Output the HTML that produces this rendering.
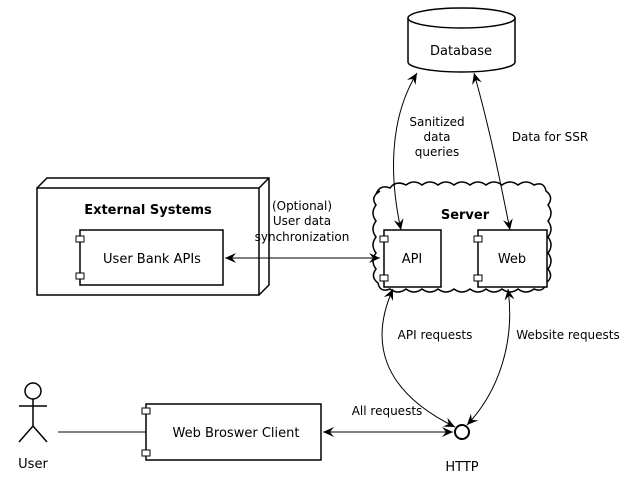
<!DOCTYPE html>
<html><head><meta charset="utf-8"><style>
html,body{margin:0;padding:0;background:#fff;}
svg{display:block;font-family:"DejaVu Sans","Liberation Sans",sans-serif;}
</style></head><body>
<svg width="635" height="484" viewBox="0 0 635 484" xmlns="http://www.w3.org/2000/svg">
<defs>
<marker id="a" viewBox="0 0 12 10" refX="11" refY="5" markerWidth="12" markerHeight="10" orient="auto-start-reverse" markerUnits="userSpaceOnUse">
<path d="M0,0 L11,5 L0,10 L4,5 Z" fill="#000"/>
</marker>
</defs>
<g fill="none" stroke="#000" stroke-width="1.5">
<path d="M408,18 L408,62 A53.5,10 0 0 0 515,62 L515,18" fill="#fff"/>
<ellipse cx="461.5" cy="18" rx="53.5" ry="10" fill="#fff"/>
<rect x="37" y="188" width="222" height="107" fill="#fff"/>
<path d="M37,188 L47,178 L269,178 L269,285 L259,295 M259,188 L269,178"/>
<rect x="80" y="230" width="143" height="55" fill="#fff"/>
<rect x="76" y="236" width="8" height="6" fill="#fff" stroke-width="1"/>
<rect x="76" y="273" width="8" height="6" fill="#fff" stroke-width="1"/>
<path fill="#fff" d="M376,194 q4,-10 14,-6 q6,-8 16,-3 q8,-6 16,0 q8,-6 16,0 q8,-6 16,0 q8,-6 16,0 q8,-6 16,0 q8,-6 16,0 q8,-6 16,0 q8,-6 16,0 q10,-4 12,6 q8,6 2,14 q6,8 0,16 q6,8 0,16 q6,8 0,16 q6,8 0,16 q6,8 -2,14 q-2,10 -12,6 q-8,6 -16,0 q-8,6 -16,0 q-8,6 -16,0 q-8,6 -16,0 q-8,6 -16,0 q-8,6 -16,0 q-8,6 -16,0 q-8,6 -16,0 q-8,6 -16,0 q-10,4 -12,-6 q-8,-6 -2,-14 q-6,-8 0,-16 q-6,-8 0,-16 q-6,-8 0,-16 q-6,-8 0,-16 q-6,-8 4,-14 z"/>
<rect x="384" y="230" width="57" height="57" fill="#fff"/>
<rect x="380" y="236" width="8" height="6" fill="#fff" stroke-width="1"/>
<rect x="380" y="275" width="8" height="6" fill="#fff" stroke-width="1"/>
<rect x="478" y="230" width="69" height="57" fill="#fff"/>
<rect x="474" y="236" width="8" height="6" fill="#fff" stroke-width="1"/>
<rect x="474" y="275" width="8" height="6" fill="#fff" stroke-width="1"/>
<rect x="146" y="404" width="175" height="56" fill="#fff"/>
<rect x="142" y="408" width="8" height="6" fill="#fff" stroke-width="1"/>
<rect x="142" y="450" width="8" height="6" fill="#fff" stroke-width="1"/>
<circle cx="462" cy="432" r="7" stroke-width="2" fill="#fff"/>
<circle cx="33" cy="391" r="8"/>
<path d="M33,399 L33,426 M19,406 L47,406 M19,442 L33,426 L47,442"/>
</g>
<g fill="none" stroke="#000" stroke-width="1">
<line x1="58" y1="432" x2="146" y2="432"/>
<line x1="323" y1="432" x2="453" y2="432" marker-start="url(#a)" marker-end="url(#a)"/>
<line x1="225" y1="258" x2="380" y2="258" marker-start="url(#a)" marker-end="url(#a)"/>
<path d="M417,73 C388,120 390,180 401,230" marker-start="url(#a)" marker-end="url(#a)"/>
<path d="M474,73 C490,130 500,180 510,230" marker-start="url(#a)" marker-end="url(#a)"/>
<path d="M393,289 C370,340 380,390 455,427" marker-start="url(#a)" marker-end="url(#a)"/>
<path d="M508,289 C515,340 500,390 467,425" marker-start="url(#a)" marker-end="url(#a)"/>
</g>
<g font-size="13" fill="#000" text-anchor="middle">
<text x="461" y="55">Database</text>
<text x="148" y="214" font-weight="bold">External Systems</text>
<text x="152" y="263">User Bank APIs</text>
<text x="465" y="219" font-weight="bold">Server</text>
<text x="412" y="263">API</text>
<text x="512" y="263">Web</text>
<text x="236" y="437">Web Broswer Client</text>
<text x="33" y="468">User</text>
<text x="462" y="471">HTTP</text>
</g>
<g font-size="12" fill="#000" text-anchor="middle">
<text x="437" y="126">Sanitized</text>
<text x="437" y="141">data</text>
<text x="437" y="156">queries</text>
<text x="550" y="141">Data for SSR</text>
<text x="302" y="210">(Optional)</text>
<text x="302" y="225">User data</text>
<text x="302" y="241">synchronization</text>
<text x="435" y="339">API requests</text>
<text x="568" y="339">Website requests</text>
<text x="387" y="415">All requests</text>
</g>
</svg>
</body></html>
